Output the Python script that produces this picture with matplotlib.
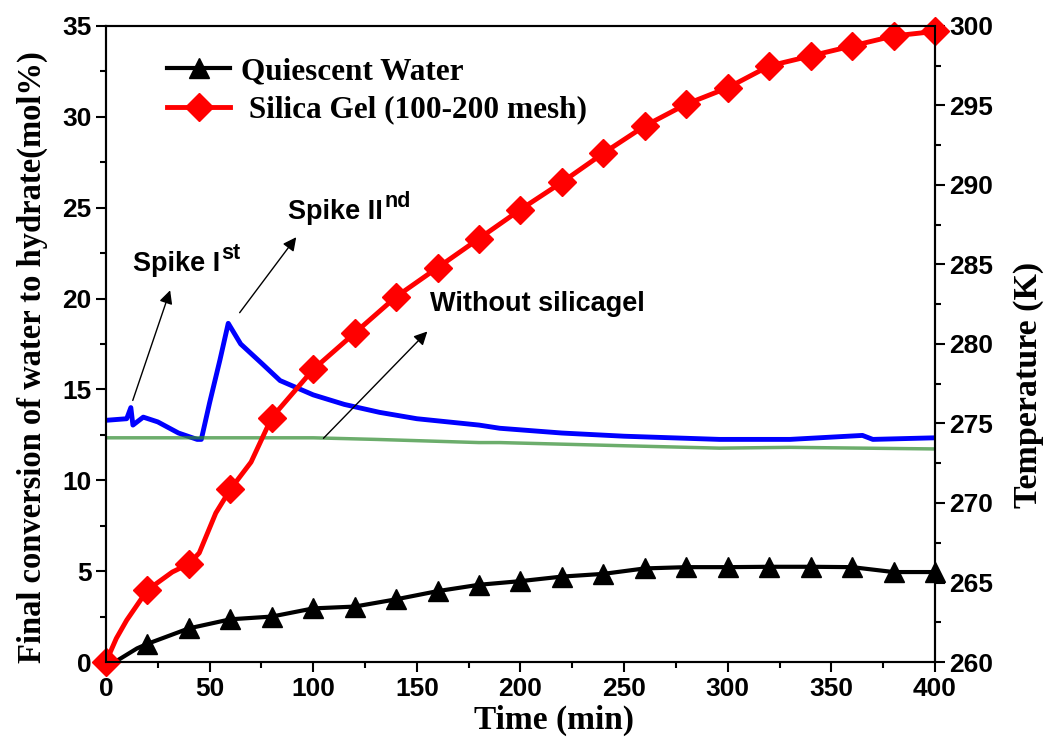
import matplotlib
matplotlib.use("Agg")
import matplotlib.pyplot as plt
from matplotlib.ticker import MultipleLocator

# conversion of water to hydrate (mol%)
silica_t = [0, 5, 10, 20, 32, 40, 45, 53, 60, 70, 80, 100, 120, 140, 160, 180, 200,
            220, 240, 260, 280, 300, 320, 340, 360, 380, 400]
silica_y = [0, 1.3, 2.3, 3.96, 4.95, 5.4, 6.0, 8.2, 9.5, 11.0, 13.45, 16.1, 18.1, 20.1,
            21.7, 23.3, 24.9, 26.4, 28.0, 29.5, 30.7, 31.6, 32.8, 33.35, 33.9, 34.45, 34.7]
silica_marks = [i for i, t in enumerate(silica_t) if t % 20 == 0]

water_t = [5, 15, 20, 40, 60, 80, 100, 120, 140, 160, 180, 200, 220, 240, 260, 280,
           300, 320, 340, 360, 380, 400]
water_y = [0.05, 0.75, 1.0, 1.85, 2.35, 2.5, 2.95, 3.05, 3.45, 3.9, 4.25, 4.45, 4.7,
           4.85, 5.15, 5.22, 5.22, 5.24, 5.24, 5.22, 4.95, 4.95]
water_marks = [i for i, t in enumerate(water_t) if t % 20 == 0]

# temperature (K), right axis
temp_t = [0, 10, 12, 13, 18, 25, 35, 44, 46, 50, 55, 59, 65, 75, 84, 100, 115, 132,
          150, 180, 190, 220, 250, 296, 330, 365, 370, 400]
temp_k = [275.2, 275.3, 276.0, 274.9, 275.4, 275.1, 274.4, 274.0, 274.0, 276.3, 279.0,
          281.3, 280.0, 278.8, 277.7, 276.8, 276.2, 275.7, 275.3, 274.9, 274.7, 274.4,
          274.2, 274.0, 274.0, 274.25, 274.0, 274.1]

nosilica_t = [0, 60, 100, 130, 180, 190, 250, 296, 330, 400]
nosilica_k = [274.1, 274.1, 274.1, 274.0, 273.8, 273.8, 273.6, 273.45, 273.5, 273.4]

fig = plt.figure(figsize=(10.44, 7.4), dpi=100)
ax = fig.add_axes([0.1015, 0.1054, 0.7941, 0.8595])
ax2 = ax.twinx()

ax2.plot(temp_t, temp_k, color='#0000ff', lw=3.5)
ax2.plot(nosilica_t, nosilica_k, color='#2e8b2e', lw=2.5, alpha=0.7)

ax.plot(water_t, water_y, color='black', lw=3, marker='^', markersize=15,
        markevery=water_marks, label='Quiescent Water', clip_on=False)
ax.plot(silica_t, silica_y, color='#ff0000', lw=3.5, marker='D', markersize=14,
        markevery=silica_marks, label=' Silica Gel (100-200 mesh)', clip_on=False)

# conversion curves drawn over the temperature curves
ax.set_zorder(ax2.get_zorder() + 1)
ax.patch.set_visible(False)

ax.set_xlim(0, 400)
ax.set_ylim(0, 35)
ax2.set_ylim(260, 300)

ax.xaxis.set_major_locator(MultipleLocator(50))
ax.xaxis.set_minor_locator(MultipleLocator(25))
ax.yaxis.set_major_locator(MultipleLocator(5))
ax.yaxis.set_minor_locator(MultipleLocator(2.5))
ax2.yaxis.set_major_locator(MultipleLocator(5))
ax2.yaxis.set_minor_locator(MultipleLocator(2.5))

for a in (ax, ax2):
    a.tick_params(which='major', direction='out', length=7, width=1.5, labelsize=19)
    a.tick_params(which='minor', direction='out', length=4, width=1.5)
    for s in a.spines.values():
        s.set_linewidth(1.5)
    for lab in a.get_xticklabels() + a.get_yticklabels():
        lab.set_fontfamily('Liberation Sans')
        lab.set_fontweight('bold')

ax.set_xlabel('Time (min)', fontsize=24, fontweight='bold', family='Liberation Serif')
ax.set_ylabel('Final conversion of water to hydrate(mol%)', fontsize=23.5,
              fontweight='bold', family='Liberation Serif')
ax2.set_ylabel('Temperature (K)', fontsize=24.5, fontweight='bold',
               family='Liberation Serif')
ax.xaxis.set_label_coords(0.54, -0.068)
ax.yaxis.set_label_coords(-0.07, 0.48)
ax2.yaxis.set_label_coords(1.094, 0.435)

ax.legend(loc='upper left', bbox_to_anchor=(0.04, 0.995), frameon=False,
          handlelength=2.0, handletextpad=0.35, labelspacing=0.3,
          prop={'family': 'Liberation Serif', 'weight': 'bold', 'size': 22.5})

# annotations, superscripts placed just after the main text
ann = dict(fontsize=19.5, fontweight='bold', family='Liberation Sans')
notes = [(13, 21.5, 'Spike I', 'st'),
         (87.8, 24.4, 'Spike II', 'nd'),
         (156.5, 19.3, 'Without silicagel', '')]
for x, y, main, sup in notes:
    t = ax.text(x, y, main, **ann)
    if sup:
        ax.annotate(sup, xy=(1, 0), xycoords=t, xytext=(1, 13), textcoords='offset points',
                    va='baseline', fontsize=15.5, fontweight='bold', family='Liberation Sans')

arrow = dict(arrowstyle='-|>', lw=1, color='black', mutation_scale=20)
ax.annotate('', xy=(31.4, 20.6), xytext=(12.5, 14.25), arrowprops=arrow)
ax.annotate('', xy=(92.6, 23.5), xytext=(63.7, 19.1), arrowprops=arrow)
ax.annotate('', xy=(156, 18.3), xytext=(104, 12.2), arrowprops=arrow)

fig.savefig('out.png', dpi=100)
